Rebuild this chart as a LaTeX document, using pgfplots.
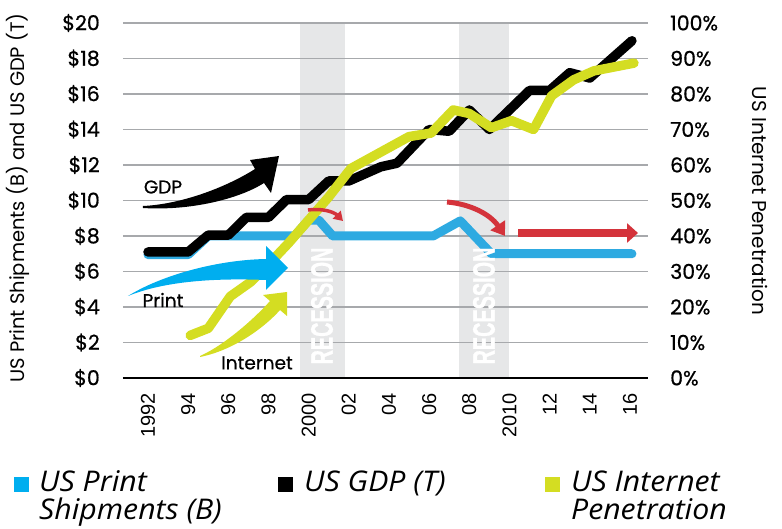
\documentclass[border=0pt]{standalone}
\usepackage{pgfplots}
\usepackage{pgfplotstable}
\pgfplotsset{compat=1.18}
\usepackage{fontspec}
\usepackage{graphicx}
\setmainfont{Poppins}
\newfontfamily\medfont{Poppins}[FakeBold=0.7]
\newfontfamily\legfont{Open Sans}[FakeStretch=1.06]
\newfontfamily\xfont{Liberation Sans}
\newfontfamily\recfont{Liberation Sans}[FakeBold=1.2]
\usetikzlibrary{arrows.meta}

\definecolor{printblue}{HTML}{2EAAE1}
\definecolor{arrowblue}{HTML}{00AEEF}
\definecolor{netgreen}{HTML}{D4DD22}
\definecolor{recred}{HTML}{D4333B}
\definecolor{recgray}{HTML}{E6E7E8}
\definecolor{gridgray}{HTML}{A7A9AC}

\pgfplotstableread{
year val
1992 6.95
1994 6.95
1995 8.0
1999.3 8.0
2000.0 8.9
2000.5 8.9
2001.2 8.0
2006.2 8.0
2007.55 8.85
2009.1 7.0
2016.1 7.0
}\printdata

\pgfplotstableread{
year val
1992 7.1
1994 7.1
1995 8.05
1996 8.05
1996.9 9.05
1998 9.05
1998.9 10.05
2000 10.05
2001 11.1
2002 11.1
2003.6 11.9
2004.4 12.1
2006 14.0
2007 13.9
2008 15.1
2009 14.0
2011 16.2
2012 16.2
2013 17.2
2014 16.9
2016.1 19.0
}\gdpdata

\pgfplotstableread{
year val
1994.1 12
1995 14
1996.1 23
1997.1 27
1998 32
1999 38
2000 44.5
2001 51
2002.1 59
2005 68
2006.1 69
2007.2 75.5
2008 74.5
2009.1 70.5
2010.1 72.5
2011.2 70
2012.1 79.5
2013.2 84
2014.2 86.5
2016.2 88.7
}\netdata

\pgfplotsset{
  base/.style={scale only axis, width=525pt, height=355pt, at={(0pt,0pt)}, anchor=south west,
    xmin=1990.755, xmax=2016.9},
}

\begin{document}
\begin{tikzpicture}
% recession shading
\begin{axis}[base, ymin=0, ymax=20, hide axis]
\addplot[fill=recgray, draw=none] coordinates {(1999.57,20) (2001.81,20)} \closedcycle;
\addplot[fill=recgray, draw=none] coordinates {(2007.49,20) (2009.98,20)} \closedcycle;
\end{axis}
% left axis
\begin{axis}[base, ymin=0, ymax=20,
  axis lines*=left, y axis line style={draw=none}, x axis line style={line width=2.5pt, black},
  major tick length=0pt, tick style={draw=none},
  ytick={0,2,...,20},
  yticklabels={\$0,\$2,\$4,\$6,\$8,\$10,\$12,\$14,\$16,\$18,\$20},
  xtick={1992,1994,...,2016},
  xticklabels={1992,94,96,98,2000,02,04,06,08,2010,12,14,16},
  ymajorgrids, grid style={gridgray, line width=1.3pt},
  yticklabel style={anchor=east, inner sep=0pt, xshift=-23pt, font=\medfont\fontsize{20.5}{24}\selectfont},
  xticklabel style={yshift=-15pt, rotate=90, anchor=east, inner sep=0pt, font=\xfont\fontsize{20}{24}\selectfont},
  /pgf/number format/assume math mode=true]
\addplot[printblue, line width=9pt, line cap=round, line join=round] table[x=year,y=val]{\printdata};
\addplot[black, line width=9.5pt, line cap=round, line join=round] table[x=year,y=val]{\gdpdata};
\end{axis}
% right axis
\begin{axis}[base, ymin=0, ymax=100,
  axis x line=none, axis y line*=right, y axis line style={draw=none},
  major tick length=0pt, tick style={draw=none},
  ytick={0,10,...,100},
  yticklabels={0\%,10\%,20\%,30\%,40\%,50\%,60\%,70\%,80\%,90\%,100\%},
  yticklabel style={anchor=west, inner sep=0pt, xshift=22pt, font=\medfont\fontsize{20.5}{24}\selectfont},
  /pgf/number format/assume math mode=true]
\addplot[netgreen, line width=9.5pt, line cap=round, line join=round] table[x=year,y=val]{\netdata};
\end{axis}

% annotations in pixel coordinates of the reference
\begin{scope}[x=1pt, y=-1pt, shift={(-123pt,378pt)}]
  % recession labels
  \node[rotate=90, text=white, inner sep=0pt, font=\recfont\bfseries\fontsize{31}{31}\selectfont] at (322,306) {\scalebox{0.64}[1]{RECESSION}};
  \node[rotate=90, text=white, inner sep=0pt, font=\recfont\bfseries\fontsize{31}{31}\selectfont] at (484,306) {\scalebox{0.64}[1]{RECESSION}};
  % GDP arrow
  \fill[black] (143,206) .. controls (185,204) and (230,185) .. (255,169)
     -- (250,160) -- (279,156) -- (271,193) -- (264,183)
     .. controls (239,199) and (190,211) .. (143,208) -- cycle;
  % Print arrow
  \fill[arrowblue] (128,296) .. controls (160,276) and (215,260) .. (266,259)
     -- (266,246) -- (288,268) -- (266,290) -- (266,280)
     .. controls (215,278) and (165,281) .. (128,296) -- cycle;
  % Internet arrow
  \fill[netgreen] (200,356) .. controls (225,345) and (256,317) .. (270,301)
     -- (263,295) -- (287,292) -- (287,316) -- (280,310)
     .. controls (266,326) and (235,350) .. (200,357) -- cycle;
  % red arrows
  \draw[recred, line width=3.5pt, -{Triangle[length=9pt,width=11pt]}] (308,210) .. controls (322,208) and (334,212) .. (343,221);
  \draw[recred, line width=5pt, -{Triangle[length=13pt,width=17pt]}] (447,202) .. controls (470,204) and (490,214) .. (505,236);
  \draw[recred, line width=8pt, -{Triangle[length=11pt,width=19pt]}] (518,233) -- (638,233);
  % labels
  \node[font=\medfont\fontsize{18.5}{18.5}\selectfont, inner sep=0pt] at (163,187) {GDP};
  \node[font=\medfont\fontsize{18.5}{18.5}\selectfont, inner sep=0pt] at (163,300) {Print};
  \node[font=\medfont\fontsize{18.5}{18.5}\selectfont, inner sep=0pt] at (257,363) {Internet};
  % axis titles
  \node[rotate=90, font=\fontsize{19.5}{19.5}\selectfont, inner sep=0pt] at (18,198) {US Print Shipments (B) and US GDP (T)};
  \node[rotate=-90, font=\fontsize{20}{20}\selectfont, inner sep=0pt] at (760,201) {US Internet Penetration};
  % legend
  \fill[arrowblue] (14,477) rectangle (29,492);
  \fill[black] (278,477) rectangle (293,492);
  \fill[netgreen] (545,477) rectangle (560,492);
  \begin{scope}[every node/.style={anchor=base west, inner sep=0pt, font=\legfont\itshape\fontsize{28.5}{30}\selectfont}]
    \node at (39,492) {US Print};
    \node at (39,520) {Shipments (B)};
    \node at (304,492) {US GDP (T)};
    \node at (571,492) {US Internet};
    \node at (571,520) {Penetration};
  \end{scope}
\end{scope}
\pgfresetboundingbox
\path[use as bounding box] (-123pt,-151pt) rectangle (659pt,378pt);
\end{tikzpicture}
\end{document}
